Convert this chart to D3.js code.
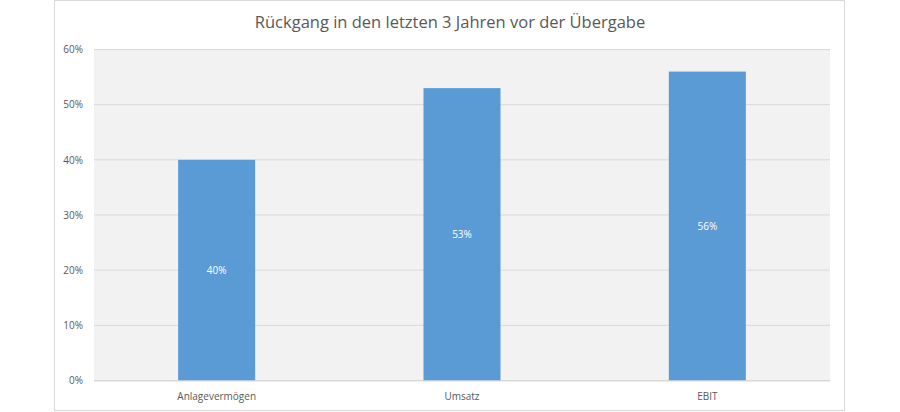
<!DOCTYPE html>
<html>
<head>
<meta charset="utf-8">
<script src="https://cdn.jsdelivr.net/npm/d3@7"></script>
<style>
  body { margin:0; background:#fff; }
  text { font-family: "Open Sans", "Liberation Sans", sans-serif; }
</style>
</head>
<body>
<script>
// data
var categories = ["Anlagevermögen", "Umsatz", "EBIT"];
var values = [40, 53, 56];
var yTicks = [0, 10, 20, 30, 40, 50, 60];
var title = "Rückgang in den letzten 3 Jahren vor der Übergabe";

var width = 900, height = 412;
var plot = {left: 94, right: 830, top: 49.5, bottom: 380.5};

var svg = d3.select("body").append("svg")
  .attr("width", width)
  .attr("height", height);

// chart border
svg.append("rect")
  .attr("x", 54.5).attr("y", 0.5)
  .attr("width", 790).attr("height", 410)
  .attr("fill", "#fff")
  .attr("stroke", "#d9d9d9");

// plot background
svg.append("rect")
  .attr("x", plot.left).attr("y", plot.top)
  .attr("width", plot.right - plot.left)
  .attr("height", plot.bottom - plot.top)
  .attr("fill", "#f2f2f2");

var x = d3.scaleBand()
  .domain(categories)
  .range([plot.left, plot.right])
  .paddingInner(0.686)
  .paddingOuter(0.343);

var y = d3.scaleLinear()
  .domain([0, 60])
  .range([plot.bottom, plot.top]);

// gridlines
svg.append("g").selectAll("line")
  .data(yTicks)
  .enter().append("line")
    .attr("x1", plot.left).attr("x2", plot.right)
    .attr("y1", function(d){ return y(d); })
    .attr("y2", function(d){ return y(d); })
    .attr("stroke", "#d9d9d9")
    .attr("stroke-width", 1);

// y axis labels
var yAxis = d3.axisLeft(y)
  .tickValues(yTicks)
  .tickSize(0)
  .tickPadding(11)
  .tickFormat(function(d){ return d + "%"; });

var gy = svg.append("g")
  .attr("transform", "translate(" + plot.left + ",0)")
  .call(yAxis);
gy.select(".domain").remove();
gy.selectAll("text")
  .attr("fill", "#595959")
  .style("font-size", "10px");

// bars
svg.append("g").selectAll("rect")
  .data(values)
  .enter().append("rect")
    .attr("x", function(d,i){ return x(categories[i]); })
    .attr("y", function(d){ return y(d); })
    .attr("width", x.bandwidth())
    .attr("height", function(d){ return y(0) - y(d); })
    .attr("fill", "#5b9bd5");

// bar labels
svg.append("g").selectAll("text")
  .data(values)
  .enter().append("text")
    .attr("x", function(d,i){ return x(categories[i]) + x.bandwidth()/2; })
    .attr("y", function(d){ return (y(d) + y(0))/2; })
    .attr("dy", "0.35em")
    .attr("text-anchor", "middle")
    .attr("fill", "#fff")
    .style("font-size", "10px")
    .text(function(d){ return d + "%"; });

// x axis
var xAxis = d3.axisBottom(x).tickSize(0).tickPadding(12);
var gx = svg.append("g")
  .attr("transform", "translate(0," + plot.bottom + ")")
  .call(xAxis);
gx.select(".domain")
  .attr("stroke", "#d9d9d9")
  .attr("d", "M" + plot.left + ",0.5H" + plot.right);
gx.selectAll("text")
  .attr("fill", "#595959")
  .style("font-size", "10px");

// title
svg.append("text")
  .attr("x", 450)
  .attr("y", 28)
  .attr("text-anchor", "middle")
  .attr("fill", "#595959")
  .style("font-size", "16.5px")
  .text(title);
</script>
</body>
</html>
